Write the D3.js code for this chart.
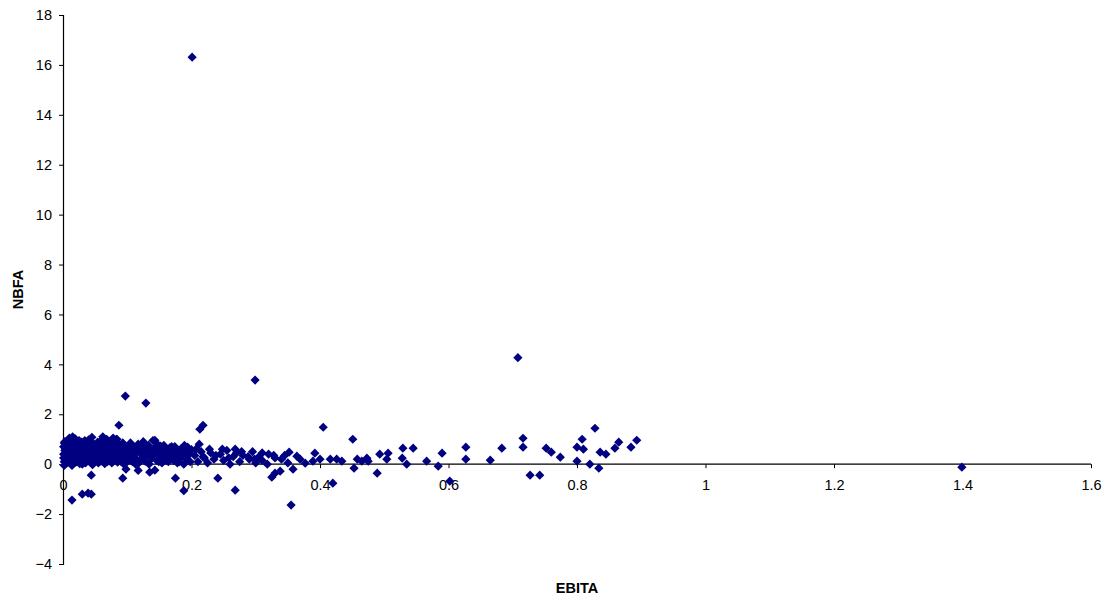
<!DOCTYPE html>
<html>
<head>
<meta charset="utf-8">
<script src="https://cdn.jsdelivr.net/npm/d3@7"></script>
<style>
  html, body { margin: 0; padding: 0; background: #fff; }
  svg text { font-family: "Liberation Sans", Arial, sans-serif; }
</style>
</head>
<body>
<svg id="chart" width="1114" height="600"></svg>
<script>
// EBITA (x) against NBFA (y), one diamond per company
const ebita = [
  0.001,0.001,0.001,0.002,0.002,0.002,0.003,0.003,0.004,0.004,0.005,0.005,0.006,0.007,0.008,0.009,
  0.010,0.011,0.012,0.013,0.014,0.015,0.016,0.017,0.018,0.019,0.020,0.021,0.022,0.023,0.024,0.025,
  0.026,0.027,0.028,0.029,0.030,0.031,0.032,0.033,0.034,0.035,0.036,0.037,0.038,0.039,0.040,0.041,
  0.042,0.043,0.044,0.045,0.046,0.047,0.048,0.049,0.050,
  0.051,0.052,0.053,0.054,0.055,0.056,0.057,0.058,0.059,0.060,0.061,0.062,0.063,0.064,0.065,0.066,
  0.067,0.068,0.069,0.070,0.071,0.072,0.073,0.074,0.075,0.076,0.077,0.078,0.079,0.080,0.081,0.082,
  0.083,0.084,0.085,0.086,0.087,0.088,0.089,0.090,0.091,0.092,0.093,0.094,0.095,0.096,0.097,0.098,
  0.099,0.100,
  0.102,0.104,0.106,0.108,0.110,0.112,0.114,0.116,0.118,0.120,0.122,0.124,0.126,0.128,0.130,0.132,
  0.134,0.136,0.138,0.140,0.142,0.144,0.146,0.148,0.150,0.152,0.154,0.156,0.158,0.160,0.162,0.164,
  0.166,0.168,0.170,0.172,0.174,0.176,0.178,0.180,0.182,0.184,0.186,0.188,0.190,0.192,0.194,0.196,
  0.198,0.200,
  0.101,0.105,0.109,0.113,0.117,0.121,0.125,0.129,0.133,0.137,0.141,0.145,0.149,0.153,
  0.157,0.161,0.165,0.169,0.173,0.177,0.181,0.185,0.189,0.193,0.197,
  0.015,0.045,0.062,0.078,
  0.068,0.083,0.143,0.212,0.010,0.025,0.040,0.060,0.075,0.030,0.018,0.055,0.090,0.012,0.035,0.065,
  0.205,0.210,0.215,0.220,0.225,0.230,0.235,0.245,0.250,0.255,0.260,0.265,0.270,0.275,0.280,0.290,
  0.295,0.300,0.305,0.310,0.320,0.330,0.340,0.345,0.350,0.352,
  0.207,0.218,0.228,0.238,0.248,0.258,0.268,0.278,0.288,0.298,0.310,0.318,0.328,
  0.364,0.369,0.377,0.389,0.392,0.400,0.416,0.426,0.434,0.451,0.458,0.465,0.473,0.475,0.493,0.504,
  0.506,0.528,0.529,0.535,0.545,0.566,0.584,0.590,0.627,0.627,0.665,0.683,0.716,0.716,0.752,0.760,
  0.774,0.800,0.800,0.808,0.810,0.820,0.836,0.845,0.859,0.865,0.884,0.893,
  0.201,0.708,0.299,0.097,0.129,0.218,0.213,0.087,0.405,0.828,
  0.014,0.030,0.039,0.044,0.044,0.093,0.098,0.117,0.135,0.143,0.175,0.188,0.241,0.268,0.325,0.330,
  0.338,0.358,0.355,0.420,0.453,0.489,0.602,0.727,0.742,0.834,1.399
];
const nbfa = [
  0.40,0.70,0.25,0.10,0.85,-0.05,0.90,0.55,0.60,0.20,0.35,0.70,0.05,0.40,0.95,0.30,
  0.62,0.12,0.78,0.48,-0.05,0.90,0.25,0.66,0.38,1.02,0.08,0.55,0.82,0.18,0.45,0.72,
  0.02,0.60,0.33,0.88,0.15,0.50,0.75,0.28,0.95,0.05,0.62,0.40,0.80,0.20,0.55,0.70,
  0.10,0.90,0.35,0.65,-0.02,0.50,0.80,0.25,0.60,
  0.15,0.72,0.42,0.88,0.05,0.58,0.30,0.78,0.12,0.65,0.45,0.92,0.20,0.55,0.02,0.75,
  0.35,0.60,0.10,0.85,0.40,0.68,0.22,0.50,0.80,0.05,0.62,0.30,0.90,0.15,0.55,0.70,
  0.38,1.00,0.08,0.60,0.25,0.78,0.45,0.12,0.68,0.35,0.85,0.02,0.52,0.72,0.20,0.60,
  0.40,0.10,
  0.65,0.30,0.50,0.10,0.70,0.40,0.20,0.58,0.05,0.45,0.75,0.28,0.55,0.12,0.62,0.38,
  0.00,0.50,0.22,0.95,0.42,0.68,0.15,0.55,0.30,0.72,0.05,0.48,0.25,0.60,0.38,0.10,
  0.65,0.30,0.50,0.15,0.70,0.40,0.05,0.55,0.25,0.62,0.35,0.00,0.50,0.20,0.68,0.40,
  0.10,0.58,
  0.35,0.85,0.55,0.00,0.80,0.20,0.90,0.40,0.75,0.30,0.60,0.85,0.10,0.40,
  0.75,0.15,0.45,0.70,0.35,0.60,0.10,0.45,0.75,0.30,0.55,
  1.10,1.08,1.10,1.05,
  1.00,1.00,0.96,0.80,1.05,0.95,0.98,0.96,0.92,0.00,0.30,0.20,0.30,0.50,0.45,0.30,
  0.35,0.10,0.50,0.25,0.05,0.45,0.20,0.40,0.15,0.55,0.00,0.30,0.45,0.10,0.35,0.20,
  0.50,0.05,0.30,0.15,0.40,0.25,0.20,0.35,0.05,0.48,
  0.60,0.30,0.60,0.35,0.60,0.25,0.60,0.50,0.30,0.20,0.45,0.00,0.35,
  0.32,0.20,0.04,0.12,0.44,0.20,0.20,0.20,0.12,1.00,0.20,0.12,0.24,0.12,0.40,0.20,
  0.44,0.24,0.64,0.00,0.64,0.12,-0.08,0.44,0.68,0.20,0.16,0.64,1.04,0.68,0.64,0.48,
  0.28,0.12,0.68,1.00,0.60,0.00,0.48,0.40,0.64,0.88,0.68,0.96,
  16.31,4.27,3.37,2.73,2.45,1.56,1.40,1.56,1.48,1.44,
  -1.44,-1.20,-1.16,-1.20,-0.44,-0.56,-0.20,-0.25,-0.32,-0.24,-0.56,-1.06,-0.56,-1.04,-0.52,-0.36,
  -0.28,-0.20,-1.64,-0.76,-0.16,-0.36,-0.68,-0.44,-0.44,-0.16,-0.12
];

const xTicks = [0, 0.2, 0.4, 0.6, 0.8, 1, 1.2, 1.4, 1.6];
const yTicks = [-4, -2, 0, 2, 4, 6, 8, 10, 12, 14, 16, 18];
const xTitle = "EBITA";
const yTitle = "NBFA";

const svg = d3.select("#chart");
const x = d3.scaleLinear().domain([0, 1.6]).range([63, 1091]);
const y = d3.scaleLinear().domain([-4, 18]).range([564, 15]);

// y axis on the left edge of the plot
const yAxis = d3.axisLeft(y).tickValues(yTicks).tickSize(4).tickPadding(7)
  .tickFormat(d3.format("d"));
const gy = svg.append("g").attr("transform", `translate(${x(0)},0)`).call(yAxis);
gy.select(".domain").attr("stroke", "#000").attr("stroke-width", 1.2);
gy.selectAll(".tick line").attr("stroke", "#000");
gy.selectAll(".tick text").attr("font-size", 14.5).attr("fill", "#000");

// x axis crosses at zero
const xAxis = d3.axisBottom(x).tickValues(xTicks).tickSize(4).tickPadding(12)
  .tickFormat(d => String(d));
const gx = svg.append("g").attr("transform", `translate(0,${y(0)})`).call(xAxis);
gx.select(".domain").attr("stroke", "#000").attr("stroke-width", 1.2)
  .attr("d", `M${x(0)},0H${x(1.6)}`);
gx.selectAll(".tick line").attr("stroke", "#000");
gx.selectAll(".tick text").attr("font-size", 14.5).attr("fill", "#000");

// diamond markers
const pts = ebita.map((v, i) => [v, nbfa[i]]);
const r = 4.6;
svg.append("g").selectAll("path").data(pts).join("path")
  .attr("d", `M0,${-r}L${r},0L0,${r}L${-r},0Z`)
  .attr("transform", d => `translate(${x(d[0])},${y(d[1])})`)
  .attr("fill", "#000080");

// axis titles
svg.append("text").attr("x", (x(0) + x(1.6)) / 2).attr("y", 593)
  .attr("text-anchor", "middle").attr("font-size", 14.5).attr("font-weight", "bold")
  .text(xTitle);
svg.append("text").attr("transform", `translate(23,${(y(-4) + y(18)) / 2}) rotate(-90)`)
  .attr("text-anchor", "middle").attr("font-size", 14.5).attr("font-weight", "bold")
  .text(yTitle);
</script>
</body>
</html>
